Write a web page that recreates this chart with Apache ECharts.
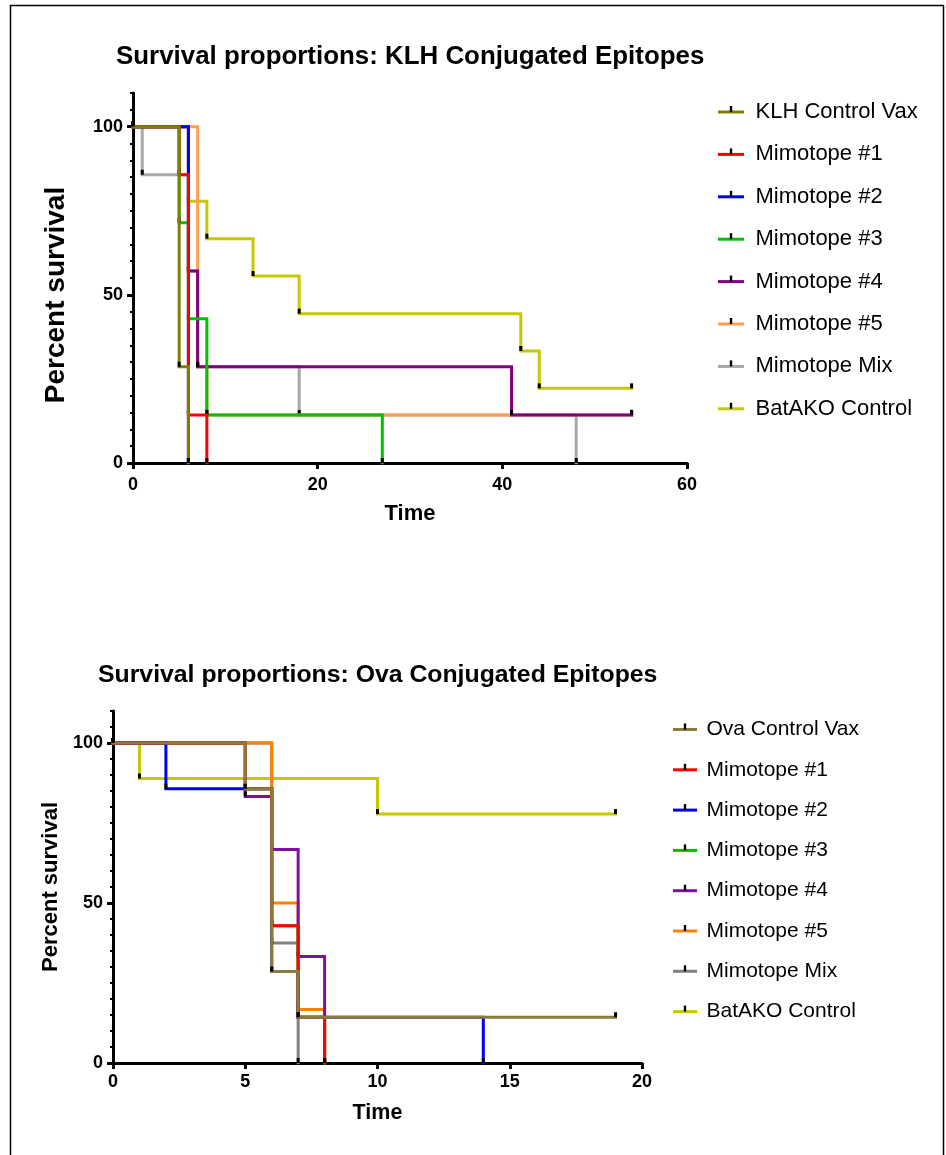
<!DOCTYPE html>
<html>
<head>
<meta charset="utf-8">
<script src="https://cdn.jsdelivr.net/npm/echarts@6/dist/echarts.min.js"></script>
<style>
  html, body { margin: 0; padding: 0; background: #ffffff; }
  #chart { width: 946px; height: 1155px; }
</style>
</head>
<body>
<div id="chart"></div>
<script>
// ---- Kaplan-Meier steps: [day, percent surviving] ----
// KLH conjugated epitopes
const klhControlVax = [[0, 100], [5, 28.6], [6, 0]];
const klhMimotope1  = [[0, 100], [5, 85.7], [6, 14.3], [8, 0]];
const klhMimotope2  = [[0, 100], [6, 0]];
const klhMimotope3  = [[0, 100], [5, 71.4], [6, 42.9], [8, 14.3], [27, 0]];
const klhMimotope4  = [[0, 100], [6, 57.1], [7, 28.6], [41, 14.3], [54, 14.3]];
const klhMimotope5  = [[0, 100], [7, 28.6], [8, 14.3], [54, 14.3]];
const klhMimoMix    = [[0, 100], [1, 85.7], [6, 57.1], [7, 28.6], [18, 14.3], [48, 0]];
const klhBatAKO     = [[0, 100], [6, 77.8], [8, 66.7], [13, 55.6], [18, 44.4], [42, 33.3], [44, 22.2], [54, 22.2]];

// Ova conjugated epitopes
const ovaControlVax = [[0, 100], [5, 85.7], [6, 28.6], [7, 14.3], [19, 14.3]];
const ovaMimotope1  = [[0, 100], [5, 85.7], [6, 42.9], [7, 14.3], [8, 0]];
const ovaMimotope2  = [[0, 100], [2, 85.7], [6, 28.6], [7, 14.3], [14, 0]];
const ovaMimotope3  = [[0, 100], [5, 85.7], [6, 42.9], [7, 14.3], [8, 0]];
const ovaMimotope4  = [[0, 100], [5, 83.3], [6, 66.7], [7, 33.3], [8, 0]];
const ovaMimotope5  = [[0, 100], [6, 50], [7, 16.7], [8, 0]];
const ovaMimoMix    = [[0, 100], [6, 37.5], [7, 0]];
const ovaBatAKO     = [[0, 100], [1, 88.9], [10, 77.8], [19, 77.8]];

const klhGroups = ['KLH Control Vax', 'Mimotope #1', 'Mimotope #2', 'Mimotope #3',
                   'Mimotope #4', 'Mimotope #5', 'Mimotope Mix', 'BatAKO Control'];
const ovaGroups = ['Ova Control Vax', 'Mimotope #1', 'Mimotope #2', 'Mimotope #3',
                   'Mimotope #4', 'Mimotope #5', 'Mimotope Mix', 'BatAKO Control'];
const klhData = [klhControlVax, klhMimotope1, klhMimotope2, klhMimotope3,
                 klhMimotope4, klhMimotope5, klhMimoMix, klhBatAKO];
const ovaData = [ovaControlVax, ovaMimotope1, ovaMimotope2, ovaMimotope3,
                 ovaMimotope4, ovaMimotope5, ovaMimoMix, ovaBatAKO];

const timeTicksKLH = [0, 20, 40, 60];
const timeTicksOva = [0, 5, 10, 15, 20];
const percentTicks = [0, 50, 100];

// ---- styling ----
const klhColors = ['#808000', '#ff0000', '#0000ff', '#00c000', '#800080', '#ffa050', '#a8a8a8', '#c8c800'];
const ovaColors = ['#8b7b3c', '#ff0000', '#0000ff', '#00c000', '#8010a0', '#ff8000', '#808080', '#c8c800'];
const FONT = '"Liberation Sans", Arial, sans-serif';
// small black tick drawn above each step point (upper half of a 15x10 box)
const TICK = 'path://M-6,0L-6,0M9,10L9,10M0,0L3,0L3,5L0,5Z';

function xAxisFor(grid, ticks, name, gap, nameSize, labelMargin) {
  return {
    type: 'value', gridIndex: grid,
    min: ticks[0], max: ticks[ticks.length - 1], interval: ticks[1] - ticks[0],
    name: name, nameLocation: 'middle', nameGap: gap,
    nameTextStyle: { fontSize: nameSize, fontWeight: 'bold', color: '#000', fontFamily: FONT },
    axisLine: { lineStyle: { color: '#000', width: 3 } },
    axisTick: { length: 6, lineStyle: { color: '#000', width: 3 } },
    axisLabel: { margin: labelMargin, fontSize: 18, fontWeight: 'bold', color: '#000', fontFamily: FONT },
    splitLine: { show: false }
  };
}
function yAxesFor(grid, gap, nameSize, nameShift) {
  return [
    { // axis line with 5 % minor ticks
      type: 'value', gridIndex: grid, min: 0, max: 110, interval: 5,
      axisLine: { show: true, lineStyle: { color: '#000', width: 3 } },
      axisTick: { length: 3, lineStyle: { color: '#000', width: 2 } },
      axisLabel: { show: false }, splitLine: { show: false }
    },
    { // major ticks, labels and title
      type: 'value', gridIndex: grid, min: 0, max: 110, interval: 50, position: 'left',
      name: 'Percent survival', nameLocation: 'middle', nameRotate: 90, nameGap: gap,
      nameTextStyle: { fontSize: nameSize, fontWeight: 'bold', color: '#000', fontFamily: FONT,
                       padding: [0, nameShift, 0, 0] },
      axisLine: { show: false },
      axisTick: { show: true, length: 6, customValues: percentTicks, lineStyle: { color: '#000', width: 3 } },
      axisLabel: { margin: 10, fontSize: 18, fontWeight: 'bold', color: '#000', fontFamily: FONT,
                   customValues: percentTicks },
      splitLine: { show: false }
    }
  ];
}
function seriesFor(prefix, groups, data, colors, xi, yi) {
  return groups.map((g, i) => ({
    type: 'line', name: prefix + '|' + g, xAxisIndex: xi, yAxisIndex: yi,
    data: data[i], step: 'end',
    z: 20 - i,                       // first group drawn on top
    symbol: TICK, symbolSize: [15, 10], showSymbol: true,
    lineStyle: { color: colors[i], width: 3, cap: 'square', join: 'miter' },
    itemStyle: { color: '#000', borderWidth: 0 },
    emphasis: { disabled: true }, silent: true
  }));
}
function legendFor(prefix, groups, left, top, size, gap, itemWidth, textGap) {
  return {
    orient: 'vertical', left: left, top: top, padding: 0, selectedMode: false,
    data: groups.map(g => prefix + '|' + g),
    formatter: n => n.split('|')[1],
    itemWidth: itemWidth, itemHeight: 15, itemGap: gap,
    lineStyle: { width: 3 },
    textStyle: { fontSize: size, lineHeight: size, color: '#000', fontFamily: FONT, padding: [0, 0, 0, textGap] }
  };
}

const chart = echarts.init(document.getElementById('chart'), null, { renderer: 'canvas' });
chart.setOption({
  animation: false,
  backgroundColor: '#ffffff',
  textStyle: { fontFamily: FONT },
  title: [
    { text: 'Survival proportions: KLH Conjugated Epitopes', left: 116, top: 44, padding: 0,
      textStyle: { fontSize: 25.9, fontWeight: 'bold', color: '#000', fontFamily: FONT } },
    { text: 'Survival proportions: Ova Conjugated Epitopes', left: 98, top: 663, padding: 0,
      textStyle: { fontSize: 24.8, fontWeight: 'bold', color: '#000', fontFamily: FONT } }
  ],
  grid: [
    { left: 133, top: 93, width: 554, height: 370 },
    { left: 113, top: 711, width: 529, height: 352 }
  ],
  xAxis: [xAxisFor(0, timeTicksKLH, 'Time', 40, 22, 13), xAxisFor(1, timeTicksOva, 'Time', 39, 21.5, 10)],
  yAxis: [...yAxesFor(0, 63, 28, 34), ...yAxesFor(1, 46, 22, 0)],
  legend: [
    legendFor('KLH', klhGroups, 718, 101, 22, 20.4, 23, 8),
    legendFor('Ova', ovaGroups, 673, 719, 21, 19.3, 21, 6)
  ],
  series: [
    ...seriesFor('KLH', klhGroups, klhData, klhColors, 0, 0),
    ...seriesFor('Ova', ovaGroups, ovaData, ovaColors, 1, 2)
  ],
  graphic: [
    { type: 'rect', silent: true, shape: { x: 10.5, y: 5.5, width: 933, height: 1200 },
      style: { fill: 'none', stroke: '#000', lineWidth: 1.5 } }
  ]
});
</script>
</body>
</html>
